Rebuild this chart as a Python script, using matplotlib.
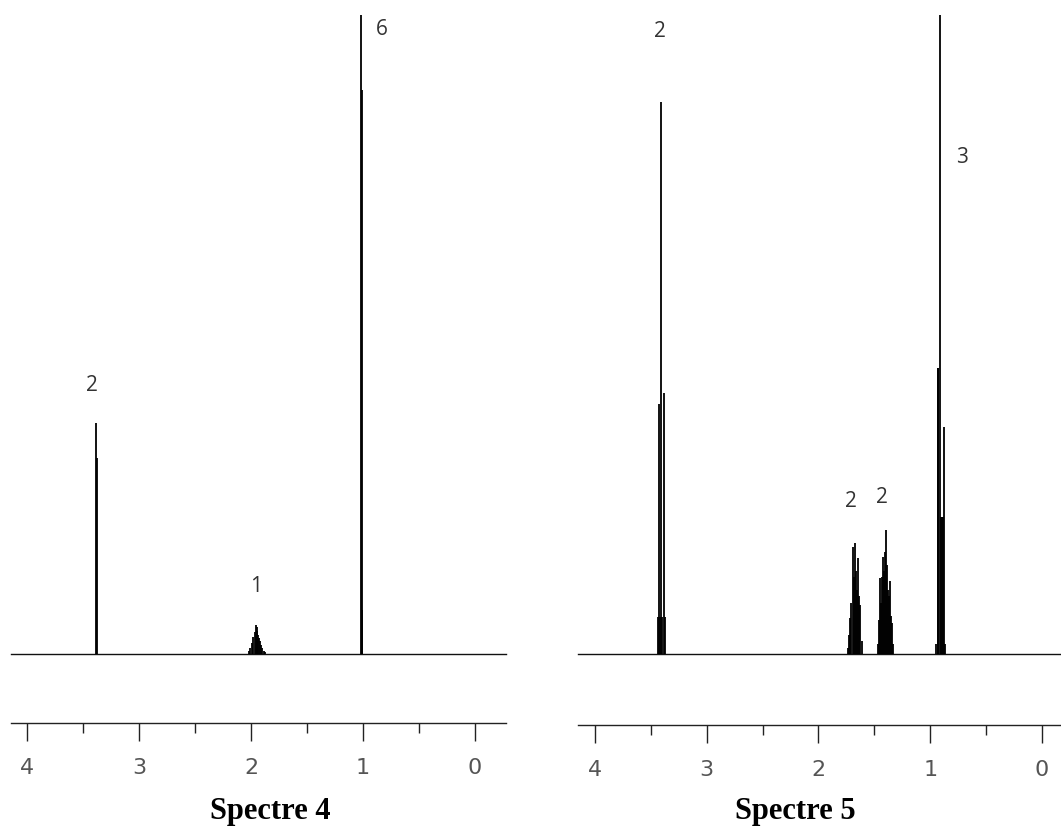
import matplotlib
matplotlib.use("Agg")
import matplotlib.pyplot as plt
from matplotlib.ticker import MultipleLocator

# Spectre 4 : sticks (ppm, relative intensity, tallest = 100)
s4_ppm = [3.385, 3.378,
          2.020, 2.005, 1.990, 1.978, 1.968, 1.958, 1.950, 1.942, 1.935, 1.928, 1.920, 1.910, 1.898, 1.885, 1.872,
          1.022, 1.013, 1.005]
s4_int = [36.2, 30.7,
          0.4, 0.9, 1.7, 2.6, 3.4, 4.5, 3.6, 4.2, 3.0, 2.5, 2.0, 1.4, 0.9, 0.5, 0.3,
          100.0, 88.3, 6.9]
s4_labels = ["2", "1", "6"]
s4_lab_ppm = [3.42, 1.955, 0.83]
s4_lab_int = [40.4, 8.9, 96.1]

# Spectre 5
s5_ppm = [3.440, 3.427, 3.418, 3.409, 3.396, 3.383, 3.375,
          1.735, 1.725, 1.715, 1.705, 1.695, 1.685, 1.675, 1.665, 1.655, 1.645, 1.635, 1.625, 1.615,
          1.465, 1.458, 1.450, 1.441, 1.432, 1.423, 1.414, 1.405, 1.396, 1.387, 1.378, 1.369, 1.360, 1.351, 1.342, 1.335,
          0.945, 0.935, 0.928, 0.913, 0.905, 0.895, 0.886, 0.877, 0.868]
s5_int = [5.8, 39.1, 5.8, 86.4, 5.8, 40.8, 5.8,
          1.0, 3.0, 5.6, 8.0, 16.7, 12.0, 17.4, 13.0, 10.0, 15.0, 9.0, 7.7, 2.0,
          1.5, 5.3, 11.9, 8.0, 12.0, 15.2, 13.0, 16.0, 19.4, 14.0, 10.0, 9.0, 11.4, 6.0, 4.9, 1.5,
          1.5, 44.8, 44.8, 100.0, 21.4, 21.4, 21.4, 35.5, 1.5]
s5_labels = ["2", "2", "2", "3"]
s5_lab_ppm = [3.42, 1.71, 1.43, 0.716]
s5_lab_int = [95.8, 22.2, 22.8, 76.0]

W, H = 1061, 831
fig = plt.figure(figsize=(W / 100, H / 100), dpi=100)
fig.patch.set_facecolor("white")


def panel(x0, x1, xlim, ruler_y, ppm, inten, labels, lab_ppm, lab_int, title, title_x):
    l, w = x0 / W, (x1 - x0) / W
    base_y = 654
    ax = fig.add_axes([l, (H - base_y) / H, w, base_y / H])
    ax.set_xlim(*xlim)
    ax.set_ylim(0, 102.35)
    ax.axis("off")
    ax.axhline(0, color="#111111", lw=1.0, clip_on=False)
    ax.vlines(ppm, 0, inten, color="black", lw=1.3, clip_on=False)
    for t, xp, yp in zip(labels, lab_ppm, lab_int):
        ax.text(xp, yp, t, ha="center", va="bottom", fontsize=15,
                family="Open Sans", color="#333333")

    # chemical shift ruler
    rax = fig.add_axes([l, (H - ruler_y) / H, w, 0.0001])
    rax.set_xlim(*xlim)
    rax.set_yticks([])
    for s in ["top", "left", "right"]:
        rax.spines[s].set_visible(False)
    rax.spines["bottom"].set_color("#222222")
    rax.spines["bottom"].set_linewidth(1.0)
    rax.xaxis.set_major_locator(MultipleLocator(1))
    rax.xaxis.set_minor_locator(MultipleLocator(0.5))
    rax.tick_params(axis="x", which="major", length=13, width=1.0, color="#222222",
                    pad=12, labelsize=16, labelcolor="#555555")
    rax.tick_params(axis="x", which="minor", length=7, width=1.0, color="#222222")
    rax.set_facecolor("none")
    fig.text(title_x / W, (H - 812) / H, title, ha="center", va="center",
             fontsize=22, fontweight="bold", family="Liberation Serif")


panel(11, 506, (4.143, -0.277), 723, s4_ppm, s4_int, s4_labels, s4_lab_ppm, s4_lab_int,
      "Spectre 4", 270)
panel(578, 1061, (4.152, -0.170), 725, s5_ppm, s5_int, s5_labels, s5_lab_ppm, s5_lab_int,
      "Spectre 5", 795)

fig.savefig("out.png", dpi=100)
